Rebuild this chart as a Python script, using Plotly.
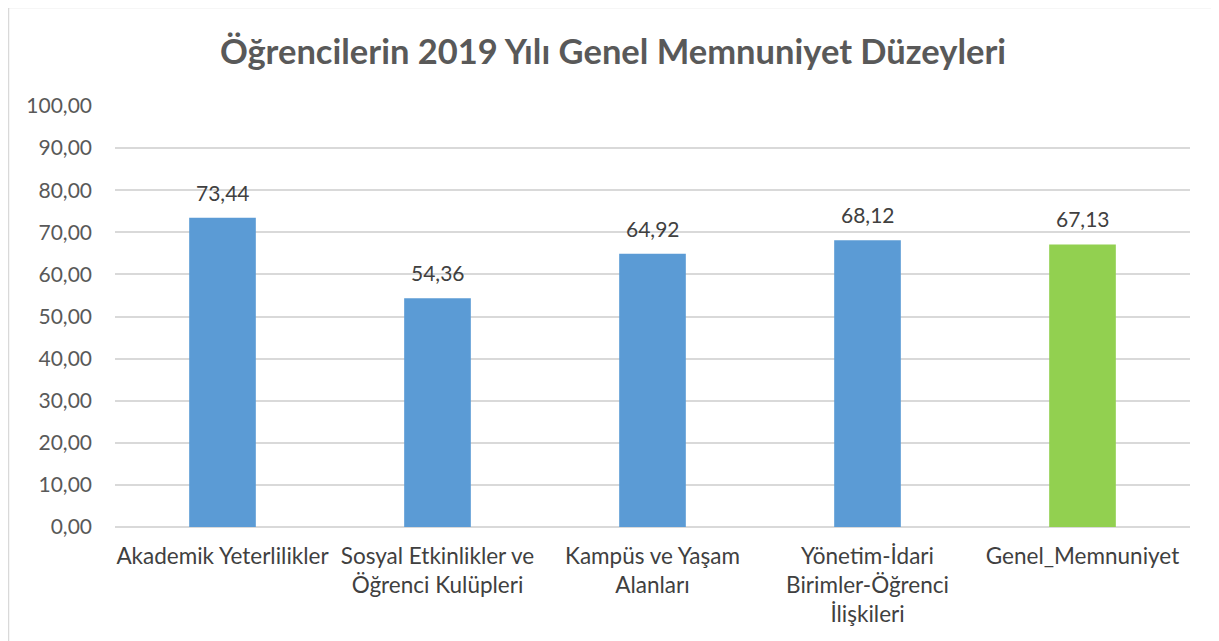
import plotly.graph_objects as go

categories = [
    "Akademik Yeterlilikler",
    "Sosyal Etkinlikler ve<br>Öğrenci Kulüpleri",
    "Kampüs ve Yaşam<br>Alanları",
    "Yönetim-İdari<br>Birimler-Öğrenci<br>İlişkileri",
    "Genel_Memnuniyet",
]
values = [73.44, 54.36, 64.92, 68.12, 67.13]
colors = ["#5B9BD5", "#5B9BD5", "#5B9BD5", "#5B9BD5", "#92D050"]
tick_vals = [0, 10, 20, 30, 40, 50, 60, 70, 80, 90, 100]
tick_text = [f"{v:.2f}".replace(".", ",") for v in tick_vals]
labels = [f"{v:.2f}".replace(".", ",") for v in values]

# page has an 8px body margin, so figure coords = page coords - 8
W, H = 1211, 660
ml, mr, mt, mb = 107, 29, 98, 141
pw, ph = W - ml - mr, H - mt - mb

font_family = "Lato, Open Sans, sans-serif"

fig = go.Figure(go.Bar(
    x=categories, y=values,
    marker=dict(color=colors, line=dict(width=0)),
    width=0.31,
))

for c, v, t in zip(categories, values, labels):
    fig.add_annotation(x=c, y=v, text=t, showarrow=False,
                       xanchor="center", yanchor="bottom", yshift=11,
                       font=dict(size=21, color="#404040", family=font_family))

fig.update_layout(
    width=W, height=H,
    margin=dict(l=ml, r=mr, t=mt, b=mb),
    paper_bgcolor="white", plot_bgcolor="white",
    title=dict(text="<b>Öğrencilerin 2019 Yılı Genel Memnuniyet Düzeyleri</b>",
               x=605 / W, xanchor="center", y=1 - 44 / H, yanchor="middle",
               font=dict(size=34.5, color="#595959", family=font_family)),
    showlegend=False,
    font=dict(family=font_family, color="#595959"),
)
fig.update_yaxes(range=[0, 100], tickvals=tick_vals, ticktext=tick_text,
                 showgrid=True, gridcolor="#D9D9D9", gridwidth=1.5,
                 zeroline=True, zerolinecolor="#D9D9D9", zerolinewidth=1.5,
                 tickfont=dict(size=21, color="#595959"), ticks="", ticklabelstandoff=22)
fig.update_xaxes(showgrid=False, showline=False,
                 tickfont=dict(size=22.5, color="#404040"), ticks="", ticklabelstandoff=13)

# chart border
fig.add_shape(type="rect", xref="paper", yref="paper",
              x0=(0.5 - ml) / pw, x1=(1209 - ml) / pw,
              y0=1 - (H + 10 - mt) / ph, y1=1 - (-0.5 - mt) / ph,
              line=dict(color="#D9D9D9", width=1.5), layer="below")

fig.write_html("out.html")
